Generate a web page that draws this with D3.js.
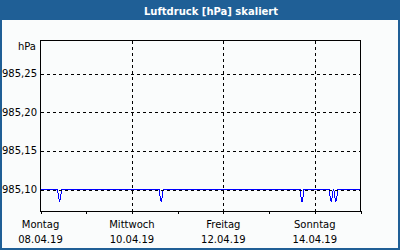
<!DOCTYPE html>
<html>
<head>
<meta charset="utf-8">
<script src="https://cdn.jsdelivr.net/npm/d3@7"></script>
<style>
  html, body { margin: 0; padding: 0; background: #fff; }
  svg text { font-family: "DejaVu Sans", Verdana, sans-serif; }
</style>
</head>
<body>
<div id="chart"></div>
<script>
// Messwerte (Zeitpunkt, Luftdruck in hPa)
const zeiten = [
    '08.04.19 00:00',
    '08.04.19 09:00', '08.04.19 09:20', '08.04.19 10:00', '08.04.19 10:40', '08.04.19 11:00',
    '10.04.19 14:20', '10.04.19 14:40', '10.04.19 15:20', '10.04.19 16:00', '10.04.19 16:20',
    '13.04.19 16:20', '13.04.19 16:40', '13.04.19 17:20', '13.04.19 18:00', '13.04.19 18:20',
    '14.04.19 07:40', '14.04.19 08:00', '14.04.19 08:40', '14.04.19 09:20', '14.04.19 09:40',
    '14.04.19 10:00', '14.04.19 10:20', '14.04.19 11:00', '14.04.19 11:40', '14.04.19 12:00',
    '15.04.19 00:00'
];
const werte = [
    985.100,
    985.100, 985.092, 985.084, 985.092, 985.100,
    985.100, 985.092, 985.084, 985.092, 985.100,
    985.100, 985.092, 985.084, 985.092, 985.100,
    985.100, 985.092, 985.084, 985.092, 985.100,
    985.100, 985.092, 985.084, 985.092, 985.100,
    985.100
];

// Achsen
const xBereich = ['08.04.19 00:00', '15.04.19 00:00'];
const tickDaten = ['08.04.19', '10.04.19', '12.04.19', '14.04.19'];
const tickTage = ['Montag', 'Mittwoch', 'Freitag', 'Sonntag'];
const gitterDaten = ['10.04.19', '12.04.19', '14.04.19'];
const yTicks = [985.10, 985.15, 985.20, 985.25];
const yBereich = [985.0716, 985.2927];
const titel = 'Luftdruck [hPa] skaliert';
const einheit = 'hPa';

const width = 400, height = 250;
const parseZeit = d3.timeParse('%d.%m.%y %H:%M');
const parseTag = d3.timeParse('%d.%m.%y');
const deFormat = d3.formatLocale({ decimal: ',', thousands: '.', grouping: [3], currency: ['', ' €'] }).format(',.2f');

const daten = zeiten.map((z, i) => ({ t: parseZeit(z), v: werte[i] }));

const svg = d3.select('#chart').append('svg')
    .attr('width', width)
    .attr('height', height);

// Hintergrund + Rahmen
svg.append('rect').attr('x', 0).attr('y', 0).attr('width', width).attr('height', height).attr('fill', '#1f5f96');
svg.append('rect').attr('x', 2).attr('y', 20).attr('width', width - 4).attr('height', height - 22).attr('fill', '#fafcfc');

svg.append('text')
    .attr('x', 211).attr('y', 15)
    .attr('text-anchor', 'middle')
    .attr('fill', '#fff')
    .attr('font-size', 10)
    .attr('font-weight', 'bold')
    .text(titel);

const x = d3.scaleTime().domain(xBereich.map(parseZeit)).range([40.5, 360.5]);
const y = d3.scaleLinear().domain(yBereich).range([211.5, 40.5]);

// Datenlinie
const line = d3.line().x(d => x(d.t)).y(d => y(d.v));
svg.append('path')
    .datum(daten)
    .attr('fill', 'none')
    .attr('stroke', '#0000ff')
    .attr('stroke-width', 1)
    .attr('shape-rendering', 'crispEdges')
    .attr('d', line);

// Gitter
const g = svg.append('g').attr('stroke', '#000').attr('stroke-dasharray', '3,3').attr('shape-rendering', 'crispEdges');
g.selectAll('line.h').data(yTicks).enter().append('line')
    .attr('x1', 41).attr('x2', 360)
    .attr('y1', d => Math.round(y(d)) + 0.5).attr('y2', d => Math.round(y(d)) + 0.5);
g.selectAll('line.v').data(gitterDaten).enter().append('line')
    .attr('x1', d => Math.round(x(parseTag(d))) + 0.5).attr('x2', d => Math.round(x(parseTag(d))) + 0.5)
    .attr('y1', 41).attr('y2', 211);

// Rahmen des Plotbereichs
svg.append('rect')
    .attr('x', 40.5).attr('y', 40.5)
    .attr('width', 320).attr('height', 171)
    .attr('fill', 'none').attr('stroke', '#000')
    .attr('shape-rendering', 'crispEdges');

// x-Achse mit Tagesstrichen
const xAxis = d3.axisBottom(x)
    .tickValues(d3.timeDay.range(parseTag('08.04.19'), parseZeit('15.04.19 00:01')))
    .tickSize(3)
    .tickFormat('');
const xa = svg.append('g').attr('transform', 'translate(0,211)').call(xAxis);
xa.select('.domain').remove();
xa.selectAll('line').attr('stroke', '#000').attr('shape-rendering', 'crispEdges');

const labels = svg.append('g').attr('font-size', 10).attr('fill', '#000').attr('text-anchor', 'middle');
labels.selectAll('text.tag').data(tickTage).enter().append('text')
    .attr('x', (d, i) => x(parseTag(tickDaten[i])))
    .attr('y', 228)
    .text(d => d);
labels.selectAll('text.datum').data(tickDaten).enter().append('text')
    .attr('x', d => x(parseTag(d)))
    .attr('y', 243)
    .text(d => d);

// y-Beschriftung
svg.append('g').attr('font-size', 10).attr('text-anchor', 'end')
    .selectAll('text').data(yTicks).enter().append('text')
    .attr('x', 37)
    .attr('y', d => y(d) + 3.5)
    .text(d => deFormat(d));

svg.append('text')
    .attr('x', 36).attr('y', 50)
    .attr('text-anchor', 'end')
    .attr('font-size', 10)
    .text(einheit);
</script>
</body>
</html>
